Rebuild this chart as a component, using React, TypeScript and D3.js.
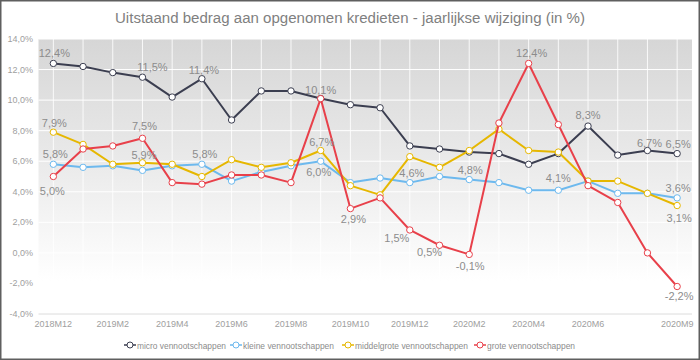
import React from "react";
import * as d3 from "d3";

const categories = [
  "2018M12", "2019M1", "2019M2", "2019M3", "2019M4", "2019M5", "2019M6", "2019M7",
  "2019M8", "2019M9", "2019M10", "2019M11", "2019M12", "2020M1", "2020M2", "2020M3",
  "2020M4", "2020M5", "2020M6", "2020M7", "2020M8", "2020M9",
];
const tickLabels = [
  "2018M12", "2019M2", "2019M4", "2019M6", "2019M8", "2019M10", "2019M12",
  "2020M2", "2020M4", "2020M6", "2020M9",
];
const yTicks = [-4, -2, 0, 2, 4, 6, 8, 10, 12, 14];

const micro = [12.4, 12.2, 11.8, 11.5, 10.2, 11.4, 8.7, 10.6, 10.6, 10.1, 9.7, 9.5, 7.0, 6.8, 6.6, 6.5, 5.8, 6.5, 8.3, 6.4, 6.7, 6.5];
const kleine = [5.8, 5.6, 5.7, 5.4, 5.7, 5.8, 4.7, 5.3, 5.7, 6.0, 4.6, 4.9, 4.6, 5.0, 4.8, 4.6, 4.1, 4.1, 4.7, 3.9, 3.9, 3.6];
const middelgrote = [7.9, 7.1, 5.8, 5.9, 5.8, 5.0, 6.1, 5.6, 5.9, 6.7, 4.4, 3.8, 6.3, 5.6, 6.7, 8.1, 6.7, 6.6, 4.7, 4.7, 3.9, 3.1];
const grote = [5.0, 6.8, 7.0, 7.5, 4.6, 4.5, 5.1, 5.1, 4.6, 10.1, 2.9, 3.6, 1.5, 0.5, -0.1, 8.5, 12.4, 8.4, 4.4, 3.3, 0.0, -2.2];

const seriesNames = ["micro vennootschappen", "kleine vennootschappen", "middelgrote vennootschappen", "grote vennootschappen"];
const seriesValues = [micro, kleine, middelgrote, grote];
const seriesColors = ["#3b3e50", "#6db9ee", "#e6b700", "#e8404a"];

// data-label placement (index, dx, dy relative to the point)
const labelSpecs = [
  [[0, 1, -10], [3, 10, -10], [5, 2, -9], [9, 0, -9], [18, 0, -11], [20, 2, -8], [21, 1, -10]],
  [[0, 2, -10], [5, 3, -10], [9, -2, 11], [12, 2, -10], [14, 1, -10], [17, 0, -12], [21, 1, -10]],
  [[0, 1, -9], [3, 1.5, -8], [9, 1, -9], [21, 2, 12]],
  [[0, -1, 14], [3, 2, -12], [10, 3, 10], [12, -13, 8], [13, -10, 7], [14, 1, 12], [16, 3, -10], [21, 2, 9]],
];

const legendX = [130, 236, 348, 480];
const legendW = [89, 91, 113, 88];

const nl = d3.formatLocale({ decimal: ",", thousands: ".", grouping: [3], currency: ["€", ""], minus: "-" });
const fmt = nl.format(".1f");

export default function App() {
  const W = 700, H = 360;
  const plot = { left: 38.5, right: 692, top: 39, bottom: 314 };
  const x = d3.scaleBand<string>().domain(categories).range([plot.left, plot.right]).padding(0);
  const cx = (i: number) => (x(categories[i]) as number) + x.bandwidth() / 2;
  const y = d3.scaleLinear().domain([-4, 14]).range([plot.bottom, plot.top]);
  const line = d3.line<number>().x((_, i) => cx(i)).y((d) => y(d));
  const font = "'Liberation Sans', Arial, sans-serif";
  const pct = (v: number) => fmt(v).replace("\u2212", "-") + "%";

  return (
    <svg width={W} height={H} style={{ position: "absolute", left: 0, top: 0, background: "#fff" }} fontFamily={font}>
      <defs>
        <linearGradient id="bg" x1="0" y1="0" x2="0" y2="1">
          <stop offset="0" stopColor="#d6d6d6" />
          <stop offset="0.45" stopColor="#eaeaea" />
          <stop offset="0.88" stopColor="#ffffff" />
          <stop offset="1" stopColor="#ffffff" />
        </linearGradient>
      </defs>
      <rect x={0.75} y={0.75} width={W - 1.5} height={H - 1.5} fill="#fff" stroke="#5f5f5f" strokeWidth={1.5} />
      <text x={350} y={22.5} textAnchor="middle" fontSize={14} fill="#808080" textLength={470} lengthAdjust="spacingAndGlyphs">
        Uitstaand bedrag aan opgenomen kredieten - jaarlijkse wijziging (in %)
      </text>
      <rect x={plot.left} y={plot.top} width={plot.right - plot.left} height={plot.bottom - plot.top} fill="url(#bg)" />
      {categories.map((c, i) => (
        <line key={"vg" + c} x1={cx(i)} x2={cx(i)} y1={plot.top} y2={plot.bottom} stroke="#ffffff" strokeOpacity={0.85} strokeWidth={1} />
      ))}
      {yTicks.map((t) => (
        <line key={"hg" + t} x1={plot.left} x2={plot.right} y1={y(t)} y2={y(t)}
          stroke={t === -4 ? "#dcdcdc" : "#ffffff"} strokeWidth={1} />
      ))}
      {yTicks.map((t) => (
        <text key={"yt" + t} x={33} y={y(t) + 3} textAnchor="end" fontSize={9} fill="#a0a0a0">
          {pct(t)}
        </text>
      ))}
      {tickLabels.map((t) => (
        <text key={"xt" + t} x={cx(categories.indexOf(t))} y={327} textAnchor="middle" fontSize={9} fill="#a0a0a0">
          {t}
        </text>
      ))}
      {seriesValues.map((vals, s) => (
        <g key={"s" + s}>
          <path d={line(vals) as string} fill="none" stroke={seriesColors[s]} strokeWidth={2} strokeLinejoin="round" />
          {vals.map((v, i) => (
            <circle key={i} cx={cx(i)} cy={y(v)} r={3.2} fill="#ffffff" stroke={seriesColors[s]} strokeWidth={1} />
          ))}
        </g>
      ))}
      {labelSpecs.map((specs, s) =>
        specs.map(([i, dx, dy]) => (
          <text key={"l" + s + "-" + i} x={cx(i) + dx} y={y(seriesValues[s][i]) + dy + 4} textAnchor="middle" fontSize={11} fill="#8c8c8c">
            {pct(seriesValues[s][i])}
          </text>
        ))
      )}
      {seriesNames.map((n, s) => (
        <g key={"lg" + s}>
          <line x1={legendX[s] - 6} x2={legendX[s] + 6} y1={345} y2={345} stroke={seriesColors[s]} strokeWidth={1.5} />
          <circle cx={legendX[s]} cy={345} r={3} fill="#fff" stroke={seriesColors[s]} strokeWidth={1} />
          <text x={legendX[s] + 7} y={348.5} fontSize={9.5} fill="#8c8c8c" textLength={legendW[s]} lengthAdjust="spacingAndGlyphs">{n}</text>
        </g>
      ))}
    </svg>
  );
}
